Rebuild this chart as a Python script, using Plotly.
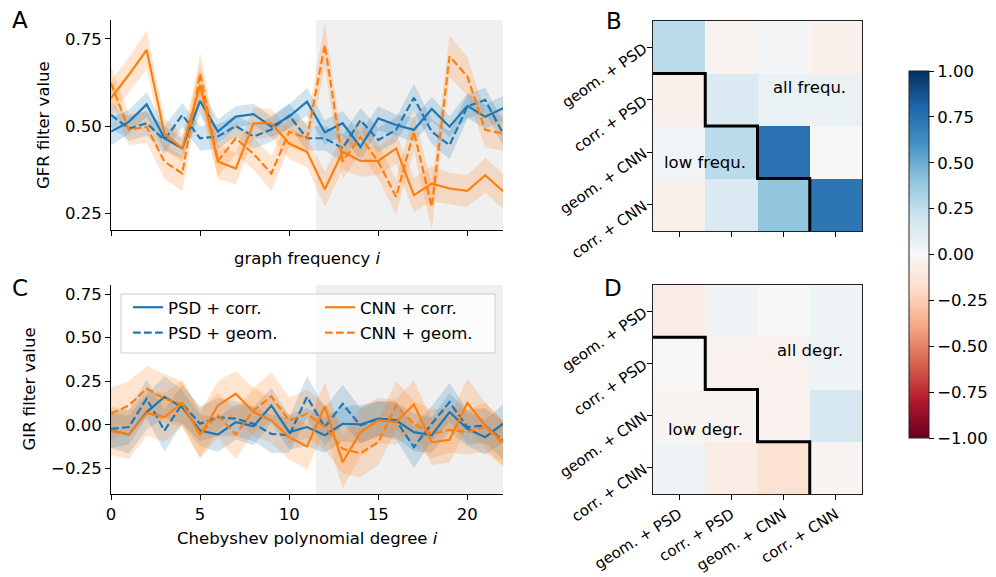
import plotly.graph_objects as go

# ---------------- data ----------------
degree = list(range(23))
LOW_CUTOFF = 11.5

gfr_psd_corr = [0.484, 0.512, 0.562, 0.465, 0.436, 0.572, 0.484, 0.527, 0.534, 0.498, 0.527, 0.570,
                0.482, 0.508, 0.440, 0.522, 0.503, 0.489, 0.549, 0.498, 0.558, 0.527, 0.551]
gfr_psd_geom = [0.532, 0.493, 0.508, 0.460, 0.532, 0.465, 0.470, 0.500, 0.470, 0.490, 0.530, 0.465,
                0.465, 0.436, 0.517, 0.460, 0.489, 0.581, 0.484, 0.445, 0.556, 0.575, 0.479]
gfr_cnn_corr = [0.580, 0.647, 0.718, 0.479, 0.436, 0.618, 0.398, 0.378, 0.508, 0.508, 0.450, 0.426,
                0.319, 0.426, 0.400, 0.400, 0.436, 0.302, 0.335, 0.321, 0.314, 0.359, 0.313]
gfr_cnn_geom = [0.623, 0.489, 0.498, 0.398, 0.364, 0.651, 0.400, 0.465, 0.420, 0.364, 0.484, 0.465,
                0.733, 0.398, 0.469, 0.398, 0.297, 0.484, 0.268, 0.700, 0.642, 0.489, 0.479]

gfr_psd_corr_sd = [0.040, 0.035, 0.035, 0.035, 0.030, 0.040, 0.035, 0.030, 0.030, 0.030, 0.035, 0.040,
                   0.035, 0.035, 0.040, 0.035, 0.030, 0.035, 0.035, 0.030, 0.035, 0.035, 0.035]
gfr_psd_geom_sd = [0.035, 0.035, 0.035, 0.040, 0.035, 0.035, 0.035, 0.030, 0.035, 0.035, 0.035, 0.035,
                   0.035, 0.040, 0.035, 0.035, 0.035, 0.040, 0.035, 0.040, 0.035, 0.035, 0.035]
gfr_cnn_corr_sd = [0.050, 0.050, 0.055, 0.045, 0.040, 0.060, 0.050, 0.045, 0.045, 0.040, 0.045, 0.045,
                   0.050, 0.050, 0.045, 0.040, 0.045, 0.050, 0.050, 0.045, 0.045, 0.050, 0.050]
gfr_cnn_geom_sd = [0.050, 0.045, 0.045, 0.050, 0.050, 0.060, 0.045, 0.045, 0.045, 0.050, 0.045, 0.045,
                   0.065, 0.050, 0.050, 0.050, 0.050, 0.055, 0.065, 0.060, 0.055, 0.050, 0.050]

gir_psd_corr = [-0.033, -0.056, 0.073, 0.160, 0.100, -0.033, -0.056, 0.015, -0.008, 0.111, -0.042, -0.013,
                -0.060, 0.006, 0.002, 0.035, 0.025, -0.042, -0.060, 0.073, -0.023, -0.071, 0.006]
gir_psd_geom = [-0.023, -0.013, 0.150, -0.033, 0.120, 0.006, 0.044, 0.035, 0.006, -0.052, -0.060, 0.160,
                -0.013, 0.120, -0.004, 0.035, 0.025, -0.128, 0.006, 0.130, -0.013, -0.004, -0.090]
gir_cnn_corr = [-0.033, -0.056, 0.067, 0.044, 0.125, -0.060, 0.111, 0.178, 0.073, 0.025, -0.071, -0.125,
                0.106, -0.215, -0.042, 0.025, 0.015, 0.117, -0.100, -0.086, 0.125, -0.004, -0.100]
gir_cnn_geom = [0.063, 0.111, 0.207, 0.150, 0.117, -0.052, 0.054, -0.056, 0.083, 0.163, 0.025, 0.063,
                -0.013, -0.138, -0.163, -0.100, 0.111, 0.006, -0.052, -0.029, -0.042, -0.013, -0.109]

gir_psd_corr_sd = [0.100, 0.110, 0.100, 0.120, 0.100, 0.090, 0.100, 0.100, 0.110, 0.100, 0.100, 0.110,
                   0.100, 0.100, 0.110, 0.100, 0.100, 0.110, 0.100, 0.110, 0.100, 0.100, 0.110]
gir_psd_geom_sd = [0.110, 0.100, 0.110, 0.120, 0.110, 0.100, 0.110, 0.100, 0.100, 0.110, 0.100, 0.120,
                   0.110, 0.110, 0.100, 0.100, 0.110, 0.120, 0.100, 0.110, 0.100, 0.100, 0.110]
gir_cnn_corr_sd = [0.140, 0.140, 0.130, 0.140, 0.130, 0.130, 0.140, 0.130, 0.140, 0.130, 0.130, 0.130,
                   0.140, 0.150, 0.140, 0.130, 0.130, 0.140, 0.130, 0.130, 0.140, 0.130, 0.130]
gir_cnn_geom_sd = [0.150, 0.140, 0.130, 0.140, 0.130, 0.140, 0.130, 0.140, 0.130, 0.140, 0.130, 0.140,
                   0.130, 0.140, 0.140, 0.130, 0.140, 0.130, 0.140, 0.130, 0.130, 0.140, 0.130]

model_labels = ["geom. + PSD", "corr. + PSD", "geom. + CNN", "corr. + CNN"]

corr_gfr = [[0.27, -0.03, 0.02, -0.05],
            [-0.05, 0.15, 0.07, 0.07],
            [0.03, 0.27, 0.75, 0.00],
            [-0.05, 0.15, 0.40, 0.73]]
corr_gir = [[-0.08, 0.04, 0.00, 0.05],
            [0.00, -0.04, -0.04, 0.05],
            [-0.02, -0.02, -0.04, 0.17],
            [0.05, -0.08, -0.15, -0.02]]

cbar_vals = [1.0, 0.75, 0.5, 0.25, 0.0, -0.25, -0.5, -0.75, -1.0]
cbar_text = ["1.00", "0.75", "0.50", "0.25", "0.00", "\u22120.25", "\u22120.50", "\u22120.75", "\u22121.00"]

# ---------------- styles ----------------
W, H = 996, 577
FONT = "DejaVu Sans"
FS = 16.5
FS_HEAT = 15
BLUE = "#1f77b4"
ORANGE = "#ff7f0e"
BLUE_F = "rgba(31,119,180,0.2)"
ORANGE_F = "rgba(255,127,14,0.2)"
DASH = "7.7px,3.3px"
LW = 2.2

RDBU = [[0.0, "rgb(103,0,31)"], [0.1, "rgb(178,24,43)"], [0.2, "rgb(214,96,77)"],
        [0.3, "rgb(244,165,130)"], [0.4, "rgb(253,219,199)"], [0.5, "rgb(247,247,247)"],
        [0.6, "rgb(209,229,240)"], [0.7, "rgb(146,197,222)"], [0.8, "rgb(67,147,195)"],
        [0.9, "rgb(33,102,172)"], [1.0, "rgb(5,48,97)"]]


def px_x(p):
    return p / W


def px_y(p):
    return 1 - p / H


fig = go.Figure()

series_a = [
    ("PSD + corr.", gfr_psd_corr, gfr_psd_corr_sd, BLUE, BLUE_F, "solid", "legend"),
    ("PSD + geom.", gfr_psd_geom, gfr_psd_geom_sd, BLUE, BLUE_F, DASH, "legend"),
    ("CNN + corr.", gfr_cnn_corr, gfr_cnn_corr_sd, ORANGE, ORANGE_F, "solid", "legend2"),
    ("CNN + geom.", gfr_cnn_geom, gfr_cnn_geom_sd, ORANGE, ORANGE_F, DASH, "legend2"),
]
series_c = [
    ("PSD + corr.", gir_psd_corr, gir_psd_corr_sd, BLUE, BLUE_F, "solid", "legend"),
    ("PSD + geom.", gir_psd_geom, gir_psd_geom_sd, BLUE, BLUE_F, DASH, "legend"),
    ("CNN + corr.", gir_cnn_corr, gir_cnn_corr_sd, ORANGE, ORANGE_F, "solid", "legend2"),
    ("CNN + geom.", gir_cnn_geom, gir_cnn_geom_sd, ORANGE, ORANGE_F, DASH, "legend2"),
]


def add_series(series, xa, ya, show_legend):
    for name, vals, sd, col, fcol, dash, leg in series:
        up = [v + s for v, s in zip(vals, sd)]
        lo = [v - s for v, s in zip(vals, sd)]
        fig.add_trace(go.Scatter(
            x=degree + degree[::-1], y=up + lo[::-1], fill="toself", fillcolor=fcol,
            line=dict(width=0), mode="lines", hoverinfo="skip", showlegend=False,
            xaxis=xa, yaxis=ya))
    for name, vals, sd, col, fcol, dash, leg in series:
        fig.add_trace(go.Scatter(
            x=degree, y=vals, mode="lines", name=name,
            line=dict(color=col, width=LW, dash=dash),
            showlegend=show_legend, legend=leg, legendgroup=name,
            xaxis=xa, yaxis=ya))


add_series(series_a, "x", "y", False)
add_series(series_c, "x3", "y3", True)

fig.add_trace(go.Heatmap(z=corr_gfr, x=list(range(4)), y=list(range(4)),
                         coloraxis="coloraxis", xaxis="x2", yaxis="y2", hoverinfo="z"))
fig.add_trace(go.Heatmap(z=corr_gir, x=list(range(4)), y=list(range(4)),
                         coloraxis="coloraxis", xaxis="x4", yaxis="y4", hoverinfo="z"))

# ---------------- axes ----------------
line_ax = dict(showline=True, linecolor="black", linewidth=1.1, ticks="outside", ticklen=5,
               tickwidth=1.1, tickcolor="black", showgrid=False, zeroline=False,
               automargin=False,
               tickfont=dict(family=FONT, size=FS, color="black"))
dom_lx = [px_x(111), px_x(503)]
dom_hx = [px_x(653), px_x(862)]
dom_top = [px_y(230), px_y(20)]
dom_bot = [px_y(494), px_y(285)]

fig.update_layout(
    xaxis=dict(line_ax, domain=dom_lx, range=[0, 22], tickvals=[0, 5, 10, 15, 20],
               showticklabels=False, anchor="y"),
    yaxis=dict(line_ax, domain=dom_top, range=[0.202, 0.804], tickvals=[0.25, 0.5, 0.75],
               tickformat=".2f", anchor="x"),
    xaxis3=dict(line_ax, domain=dom_lx, range=[0, 22], tickvals=[0, 5, 10, 15, 20], anchor="y3"),
    yaxis3=dict(line_ax, domain=dom_bot, range=[-0.397, 0.802],
                tickvals=[-0.25, 0, 0.25, 0.5, 0.75], tickformat=".2f", anchor="x3"),
)

heat_ax = dict(line_ax, mirror=True, linecolor="#222222", tickvals=list(range(4)),
               tickfont=dict(family=FONT, size=FS_HEAT, color="black"))
fig.update_layout(
    xaxis2=dict(heat_ax, domain=dom_hx, range=[-0.5, 3.5], showticklabels=False, anchor="y2"),
    yaxis2=dict(heat_ax, domain=[px_y(231), px_y(21)], range=[3.5, -0.5], ticktext=model_labels,
                tickangle=-35, anchor="x2"),
    xaxis4=dict(heat_ax, domain=dom_hx, range=[-0.5, 3.5], ticktext=model_labels,
                tickangle=-32, anchor="y4"),
    yaxis4=dict(heat_ax, domain=dom_bot, range=[3.5, -0.5], ticktext=model_labels,
                tickangle=-35, anchor="x4"),
)

fig.update_layout(coloraxis=dict(
    colorscale=RDBU, cmin=-1, cmax=1,
    colorbar=dict(x=px_x(909), xanchor="left", y=px_y(254.5), yanchor="middle",
                  len=367 / H, lenmode="fraction", thickness=20, thicknessmode="pixels",
                  outlinewidth=1, outlinecolor="#222222", ticks="outside", ticklen=5,
                  tickcolor="black", tickvals=cbar_vals, ticktext=cbar_text,
                  tickfont=dict(family=FONT, size=FS, color="black"), xpad=0, ypad=0)))

# ---------------- shapes ----------------
shapes = []
for xa, ya in (("x", "y"), ("x3", "y3")):
    shapes.append(dict(type="rect", xref=xa, yref=ya + " domain", x0=LOW_CUTOFF, x1=22, y0=0, y1=1,
                       fillcolor="#f0f0f0", line=dict(width=0), layer="below"))

n = len(model_labels)
pts = [(-0.5, 0.5)]
for k in range(n - 1):
    pts.append((k + 0.5, k + 0.5))
    pts.append((k + 0.5, k + 1.5))
path = "M " + " L ".join(f"{a},{b}" for a, b in pts)
for xa, ya in (("x2", "y2"), ("x4", "y4")):
    shapes.append(dict(type="path", xref=xa, yref=ya, path=path, line=dict(color="black", width=3)))

# legend frame
shapes.append(dict(type="rect", xref="paper", yref="paper", x0=px_x(121), x1=px_x(495),
                   y0=px_y(353), y1=px_y(294), fillcolor="rgba(255,255,255,0.8)",
                   line=dict(color="#cccccc", width=1), layer="above"))
fig.update_layout(shapes=shapes)

# ---------------- annotations ----------------
ann = []


def txt(text, x, y, size=FS, angle=0, xref="paper", yref="paper"):
    ann.append(dict(text=text, x=x, y=y, xref=xref, yref=yref, showarrow=False,
                    textangle=angle, xanchor="center", yanchor="middle",
                    font=dict(family=FONT, size=size, color="black")))


txt("A", px_x(20), px_y(20), size=23)
txt("B", px_x(614), px_y(21), size=23)
txt("C", px_x(20), px_y(288), size=23)
txt("D", px_x(613), px_y(288), size=23)
txt("GFR filter value", px_x(44), px_y(125), angle=-90)
txt("graph frequency <i>i</i>", px_x(307), px_y(258))
txt("GIR filter value", px_x(29), px_y(389.5), angle=-90)
txt("Chebyshev polynomial degree <i>i</i>", px_x(307), px_y(538))
txt("all frequ.", 2.5, 0.76, xref="x2", yref="y2")
txt("low frequ.", 0.5, 2.2, xref="x2", yref="y2")
txt("all degr.", 2.5, 0.76, xref="x4", yref="y4")
txt("low degr.", 0.5, 2.26, xref="x4", yref="y4")
fig.update_layout(annotations=ann)

leg_common = dict(bgcolor="rgba(0,0,0,0)", borderwidth=0, orientation="v",
                  font=dict(family=FONT, size=FS, color="black"), tracegroupgap=1,
                  xanchor="left", yanchor="top", itemwidth=30)
fig.update_layout(
    legend=dict(leg_common, x=px_x(128), y=px_y(290)),
    legend2=dict(leg_common, x=px_x(320), y=px_y(290)),
)

fig.update_layout(width=W, height=H,
                  margin=dict(l=0, r=0, t=0, b=0, autoexpand=False),
                  paper_bgcolor="white", plot_bgcolor="white",
                  font=dict(family=FONT, size=FS, color="black"))

fig.write_html("out.html", config={"displayModeBar": False},
               post_script="document.body.style.margin='0';document.body.style.padding='0';")
